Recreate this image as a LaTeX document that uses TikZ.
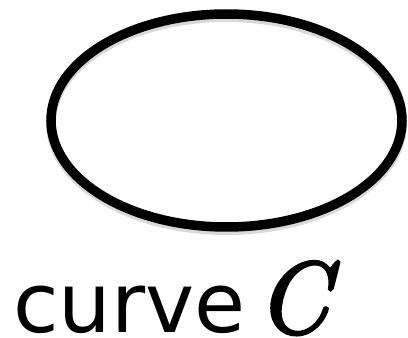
\documentclass[tikz,border=0pt]{standalone}
\usepackage{fontspec}
\newfontfamily\labelfont{DejaVu Sans}
\newfontfamily\symfont[Extension=.otf,BoldFont=lmroman10-italic,BoldFeatures={FakeBold=2.5}]{lmroman10-italic}
\usetikzlibrary{shapes.geometric}

\begin{document}
\begin{tikzpicture}[x=1pt,y=1pt]
    \useasboundingbox (0,0) rectangle (408,338);
    % soft shadow under the curve
    \node[ellipse,draw=black!15,line width=10pt,minimum width=351pt,minimum height=213pt,inner sep=0pt] (shadow) at (226.5,214.5) {};
    \node[ellipse,draw,line width=9.5pt,minimum width=351pt,minimum height=213pt,inner sep=0pt] (curve) at (226.5,217.5) {};
    \node[anchor=base west,inner sep=0pt,font=\labelfont\fontsize{83}{90}\selectfont] (name) at (13,5) {curve};
    \node[anchor=base west,inner sep=0pt,font=\symfont\bfseries\fontsize{102}{110}\selectfont] (sym) at (256,5) {C};
  \end{tikzpicture}
\end{document}
